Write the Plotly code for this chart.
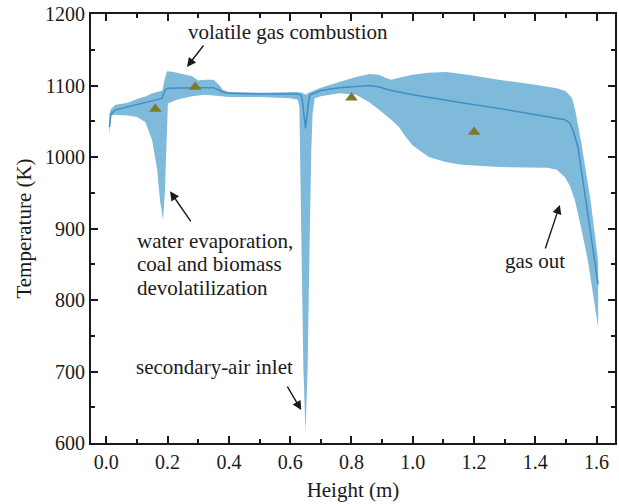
import plotly.graph_objects as go

# Upper bound of temperature band
upper_x = [0.01, 0.015, 0.03, 0.07, 0.10, 0.13, 0.15, 0.17, 0.183, 0.19, 0.198, 0.22, 0.25, 0.28, 0.30,
           0.32, 0.35, 0.37, 0.38, 0.40, 0.50, 0.62, 0.64, 0.65, 0.66, 0.68, 0.70, 0.76, 0.815, 0.86,
           0.89, 0.91, 0.93, 0.955, 1.0, 1.05, 1.11, 1.18, 1.28, 1.40, 1.47, 1.50, 1.52, 1.53, 1.55,
           1.58, 1.605]
upper_y = [1060, 1067, 1073, 1076, 1081, 1085, 1089, 1091, 1093, 1108, 1120, 1119, 1116, 1113, 1107,
           1108, 1108, 1100, 1094, 1091, 1090, 1091, 1090, 1087, 1090, 1094, 1097, 1105, 1112, 1116,
           1115, 1111, 1108, 1111, 1115, 1118, 1119, 1115, 1108, 1101, 1096, 1092, 1082, 1066, 1020,
           940, 855]

# Lower bound of temperature band
lower_x = [0.01, 0.015, 0.03, 0.07, 0.10, 0.127, 0.149, 0.166, 0.175, 0.185, 0.191, 0.198, 0.201, 0.23,
           0.28, 0.32, 0.35, 0.40, 0.50, 0.60, 0.625, 0.63, 0.631, 0.637, 0.643, 0.65, 0.657, 0.663,
           0.669, 0.673, 0.68, 0.70, 0.76, 0.815, 0.857, 0.89, 0.93, 0.955, 0.977, 1.0, 1.052, 1.107,
           1.159, 1.28, 1.44, 1.47, 1.496, 1.512, 1.529, 1.55, 1.571, 1.605]
lower_y = [1030, 1058, 1059, 1058, 1056, 1049, 1024, 982, 940, 912, 950, 1042, 1075, 1080,
           1085, 1087, 1086, 1084, 1084, 1082, 1080, 1070, 1010, 870, 706, 614, 706, 870,
           1010, 1060, 1082, 1085, 1089, 1087, 1077, 1066, 1052, 1042, 1028, 1016, 1000, 993,
           989, 986, 985, 982, 972, 960, 940, 900, 856, 762]

# Mean temperature
mean_x = [0.01, 0.015, 0.03, 0.07, 0.10, 0.13, 0.16, 0.182, 0.186, 0.192, 0.20, 0.25, 0.30, 0.35, 0.38,
          0.40, 0.50, 0.62, 0.635, 0.64, 0.645, 0.65, 0.655, 0.66, 0.665, 0.68, 0.70, 0.76, 0.815,
          0.86, 0.89, 0.93, 1.0, 1.11, 1.16, 1.28, 1.44, 1.496, 1.512, 1.525, 1.539, 1.57, 1.605]
mean_y = [1042, 1060, 1066, 1070, 1074, 1077, 1080, 1082, 1088, 1094, 1096, 1097, 1097, 1097, 1091,
          1089, 1088, 1088, 1087, 1078, 1058, 1040, 1058, 1078, 1087, 1090, 1093, 1097, 1099,
          1100, 1098, 1093, 1087, 1080, 1076, 1068, 1056, 1052, 1048, 1035, 1014, 924, 822]

# Measured points
meas_x = [0.16, 0.29, 0.80, 1.20]
meas_y = [1067, 1098, 1083, 1035]

# Label lines
water_lines = ["water evaporation,", "coal and biomass", "devolatilization"]

FONT = "Liberation Serif"
FILL = "#80badb"
LINE = "#3e8fc8"
INK = "#1a1a1a"

fig = go.Figure()
fig.add_trace(go.Scatter(
    x=upper_x + lower_x[::-1], y=upper_y + lower_y[::-1],
    fill="toself", fillcolor=FILL, line=dict(width=0), mode="lines",
    hoverinfo="skip", showlegend=False))
fig.add_trace(go.Scatter(x=mean_x, y=mean_y, mode="lines",
                         line=dict(color=LINE, width=1.5), showlegend=False))
fig.add_trace(go.Scatter(x=meas_x, y=meas_y, mode="markers",
                         marker=dict(symbol="triangle-up", size=11, color="#7d7a2c"),
                         showlegend=False))

def arrow(x, y, ax, ay):
    fig.add_annotation(x=x, y=y, ax=ax, ay=ay, xref="x", yref="y", axref="x", ayref="y",
                       text="", showarrow=True, arrowhead=2, arrowsize=1.3, arrowwidth=1.4,
                       arrowcolor=INK)

arrow(0.263, 1126, 0.321, 1158)
arrow(0.208, 952, 0.279, 908)
arrow(0.636, 646, 0.588, 681)
arrow(1.480, 933, 1.431, 870)

tfont = dict(family=FONT, size=21, color=INK)
fig.add_annotation(x=0.594, y=1175, text="volatile gas combustion", showarrow=False,
                   xanchor="center", yanchor="middle", font=tfont)
for line_text, yy in zip(water_lines, [882, 850, 817]):
    fig.add_annotation(x=0.094, y=yy, text=line_text, showarrow=False,
                       xanchor="left", yanchor="middle", font=tfont)
fig.add_annotation(x=0.354, y=706, text="secondary-air inlet", showarrow=False,
                   xanchor="center", yanchor="middle", font=tfont)
fig.add_annotation(x=1.40, y=855, text="gas out", showarrow=False,
                   xanchor="center", yanchor="middle", font=tfont)

axis_common = dict(showline=True, linecolor=INK, linewidth=2, mirror="ticks",
                   ticks="inside", ticklen=7, tickwidth=2, tickcolor=INK,
                   showgrid=False, zeroline=False,
                   tickfont=dict(family=FONT, size=20, color=INK))

fig.update_xaxes(range=[-0.05, 1.66], tickvals=[0, 0.2, 0.4, 0.6, 0.8, 1.0, 1.2, 1.4, 1.6],
                 ticktext=["0.0", "0.2", "0.4", "0.6", "0.8", "1.0", "1.2", "1.4", "1.6"],
                 minor=dict(ticks="inside", dtick=0.1, tick0=0, ticklen=4, tickwidth=2,
                            tickcolor=INK),
                 title=dict(text="Height (m)", font=dict(family=FONT, size=21, color=INK),
                            standoff=10),
                 **axis_common)
fig.update_yaxes(range=[600, 1200], dtick=100,
                 minor=dict(ticks="inside", dtick=50, ticklen=4, tickwidth=2, tickcolor=INK),
                 title=dict(text="Temperature (K)", font=dict(family=FONT, size=21, color=INK),
                            standoff=8),
                 **axis_common)

fig.update_layout(width=619, height=504, margin=dict(l=91, r=2, t=14, b=61),
                  plot_bgcolor="white", paper_bgcolor="white")

fig.write_html("out.html")
